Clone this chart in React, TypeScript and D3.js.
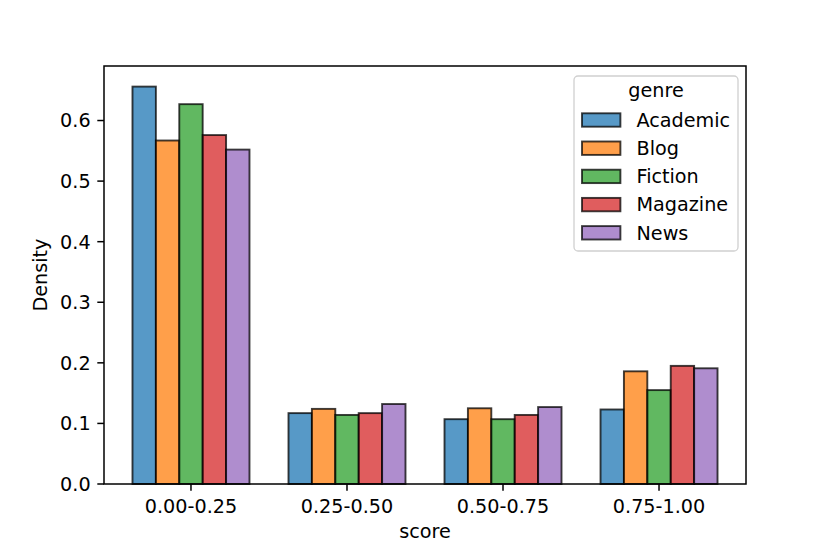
import React from "react";
import * as d3 from "d3";

const categories = ["0.00-0.25", "0.25-0.50", "0.50-0.75", "0.75-1.00"];
const genres = ["Academic", "Blog", "Fiction", "Magazine", "News"];
const colors = ["#1f77b4", "#ff7f0e", "#2ca02c", "#d62728", "#9467bd"];
const academic = [0.656, 0.117, 0.107, 0.123];
const blog = [0.567, 0.124, 0.125, 0.186];
const fiction = [0.627, 0.114, 0.107, 0.155];
const magazine = [0.576, 0.117, 0.114, 0.195];
const news = [0.552, 0.132, 0.127, 0.191];
const seriesValues = [academic, blog, fiction, magazine, news];
const yTicks = [0.0, 0.1, 0.2, 0.3, 0.4, 0.5, 0.6];

const W = 830, H = 554;
const left = 104, right = 746, top = 66, bottom = 484;
const FS = 19.2;
const FONT = "DejaVu Sans, sans-serif";

export default function App() {
  const x = d3.scaleLinear().domain([-0.5575, categories.length - 1 + 0.5575]).range([left, right]);
  const y = d3.scaleLinear().domain([0, 0.69]).range([bottom, top]);
  const groupW = 0.75;
  const barW = groupW / genres.length;
  const tickLen = 6.7;

  return (
    <svg width={W} height={H} style={{ display: "block", position: "absolute", left: 0, top: 0 }} fontFamily={FONT}>
      <rect width={W} height={H} fill="#fff" />
      {seriesValues.map((vals, gi) =>
        vals.map((v, ci) => {
          const x0 = x(ci - groupW / 2 + gi * barW);
          const x1 = x(ci - groupW / 2 + (gi + 1) * barW);
          return (
            <rect
              key={`${gi}-${ci}`}
              x={x0}
              y={y(v)}
              width={x1 - x0}
              height={y(0) - y(v)}
              fill={colors[gi]}
              fillOpacity={0.75}
              stroke="#000"
              strokeOpacity={0.75}
              strokeWidth={1.9}
            />
          );
        })
      )}
      {/* axes frame */}
      <rect x={left} y={top} width={right - left} height={bottom - top} fill="none" stroke="#000" strokeWidth={1.5} />
      {/* y ticks */}
      {yTicks.map((t) => (
        <g key={t}>
          <line x1={left - tickLen} x2={left} y1={y(t)} y2={y(t)} stroke="#000" strokeWidth={1.5} />
          <text x={left - tickLen - 6.7} y={y(t)} dy="0.36em" textAnchor="end" fontSize={FS} fill="#000">
            {t.toFixed(1)}
          </text>
        </g>
      ))}
      {/* x ticks */}
      {categories.map((c, i) => (
        <g key={c}>
          <line x1={x(i)} x2={x(i)} y1={bottom} y2={bottom + tickLen} stroke="#000" strokeWidth={1.5} />
          <text x={x(i)} y={513} textAnchor="middle" fontSize={FS} fill="#000">
            {c}
          </text>
        </g>
      ))}
      <text x={(left + right) / 2} y={538} textAnchor="middle" fontSize={FS} fill="#000">score</text>
      <text transform={`translate(47,${(top + bottom) / 2}) rotate(-90)`} textAnchor="middle" fontSize={FS} fill="#000">Density</text>
      {/* legend */}
      <g>
        <rect x={574} y={76} width={164} height={175} rx={4} fill="#fff" fillOpacity={0.8} stroke="#d0d0d0" strokeWidth={1.3} />
        <text x={656} y={97} textAnchor="middle" fontSize={FS} fill="#000">genre</text>
        {genres.map((g, i) => {
          const cy = 120 + i * 28.2;
          return (
            <g key={g}>
              <rect x={582} y={cy - 6.7} width={38.4} height={13.4} fill={colors[i]} fillOpacity={0.75} stroke="#000" strokeOpacity={0.75} strokeWidth={1.9} />
              <text x={636.5} y={cy + 6.7} fontSize={FS} fill="#000">{g}</text>
            </g>
          );
        })}
      </g>
    </svg>
  );
}
